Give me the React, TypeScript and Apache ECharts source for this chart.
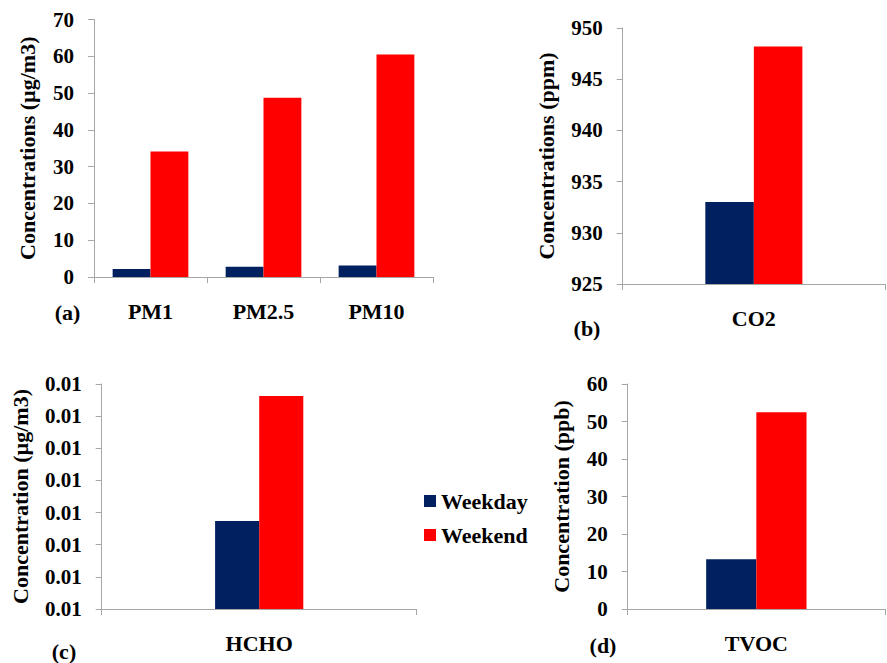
import React, { useEffect, useRef } from "react";
import * as echarts from "echarts";

const pmCategories = ["PM1", "PM2.5", "PM10"];
const pmWeekday = [2.2, 2.8, 3.1];
const pmWeekend = [34.1, 48.7, 60.5];

const co2Categories = ["CO2"];
const co2Weekday = [933.0];
const co2Weekend = [948.2];

const hchoCategories = ["HCHO"];
const hchoWeekday = [0.00874];
const hchoWeekend = [0.01263];

const tvocCategories = ["TVOC"];
const tvocWeekday = [13.3];
const tvocWeekend = [52.5];

const seriesNames = ["Weekday", "Weekend"];
const panelLetters = ["(a)", "(b)", "(c)", "(d)"];

const FONT = '"Liberation Serif", "Times New Roman", Times, serif';
const WEEKDAY_COLOR = "#002060";
const WEEKEND_COLOR = "#FF0000";
const AXIS_COLOR = "#A6A6A6";

export default function App() {
  const ref = useRef<HTMLDivElement>(null);

  useEffect(() => {
    if (!ref.current) return;
    const chart = echarts.init(ref.current, undefined, { renderer: "svg" });

    const grids = [
      { left: 94, top: 19.5, width: 339, height: 257.5 },
      { left: 622.7, top: 28, width: 262.3, height: 256 },
      { left: 101.7, top: 384, width: 315, height: 225 },
      { left: 627.7, top: 384, width: 257.3, height: 225 },
    ];

    const cats = [pmCategories, co2Categories, hchoCategories, tvocCategories];
    const weekday = [pmWeekday, co2Weekday, hchoWeekday, tvocWeekday];
    const weekend = [pmWeekend, co2Weekend, hchoWeekend, tvocWeekend];
    const catGaps = ["33%", "63%", "72%", "61%"];

    const yCfg = [
      { min: 0, max: 70, interval: 10, name: "Concentrations (µg/m3)", gap: 56, fmt: (v: number) => String(v) },
      { min: 925, max: 950, interval: 5, name: "Concentrations (ppm)", gap: 65, fmt: (v: number) => String(v) },
      { min: 0.006, max: 0.013, interval: 0.001, name: "Concentration (µg/m3)", gap: 70, fmt: (v: number) => v.toFixed(2) },
      { min: 0, max: 60, interval: 10, name: "Concentration (ppb)", gap: 55, fmt: (v: number) => String(v) },
    ];

    const labelStyle = { color: "#000", fontFamily: FONT, fontWeight: "bold" as const, fontSize: 21 };

    const xAxis = cats.map((c, i) => ({
      type: "category" as const,
      gridIndex: i,
      data: c,
      axisLine: { lineStyle: { color: AXIS_COLOR, width: 1 } },
      axisTick: { show: true, length: 6, lineStyle: { color: AXIS_COLOR } },
      axisLabel: { ...labelStyle, fontSize: 22, margin: 23 },
    }));

    const yAxis = yCfg.map((y, i) => ({
      type: "value" as const,
      gridIndex: i,
      min: y.min,
      max: y.max,
      interval: y.interval,
      name: y.name,
      nameLocation: "middle" as const,
      nameGap: y.gap,
      nameRotate: 90,
      nameTextStyle: { color: "#000", fontFamily: FONT, fontWeight: "bold" as const, fontSize: 22 },
      axisLine: { show: true, lineStyle: { color: AXIS_COLOR, width: 1 } },
      axisTick: { show: true, length: 6, lineStyle: { color: AXIS_COLOR } },
      splitLine: { show: false },
      axisLabel: { ...labelStyle, margin: 20, formatter: y.fmt },
    }));

    const series: any[] = [];
    for (let i = 0; i < 4; i++) {
      series.push({
        type: "bar",
        name: seriesNames[0],
        xAxisIndex: i,
        yAxisIndex: i,
        data: weekday[i],
        itemStyle: { color: WEEKDAY_COLOR },
        barGap: "0%",
        barCategoryGap: catGaps[i],
      });
      series.push({
        type: "bar",
        name: seriesNames[1],
        xAxisIndex: i,
        yAxisIndex: i,
        data: weekend[i],
        itemStyle: { color: WEEKEND_COLOR },
        barGap: "0%",
        barCategoryGap: catGaps[i],
      });
    }

    const letterPos = [
      [67.5, 312],
      [587, 328],
      [64, 651],
      [603, 645],
    ];

    chart.setOption({
      animation: false,
      backgroundColor: "#fff",
      grid: grids,
      xAxis,
      yAxis,
      series,
      legend: {
        data: seriesNames,
        orient: "vertical",
        left: 419,
        top: 485,
        itemWidth: 12,
        itemHeight: 12,
        itemGap: 12,
        icon: "rect",
        textStyle: { color: "#000", fontFamily: FONT, fontWeight: "bold", fontSize: 22 },
      },
      graphic: panelLetters.map((t, i) => ({
        type: "text",
        x: letterPos[i][0],
        y: letterPos[i][1],
        style: {
          text: t,
          fill: "#000",
          font: `bold 22px ${FONT}`,
          textAlign: "center",
          textVerticalAlign: "middle",
        },
      })),
    });

    return () => chart.dispose();
  }, []);

  return (
    <div
      ref={ref}
      style={{ position: "fixed", left: 0, top: 0, width: 887, height: 663, background: "#fff" }}
    />
  );
}
